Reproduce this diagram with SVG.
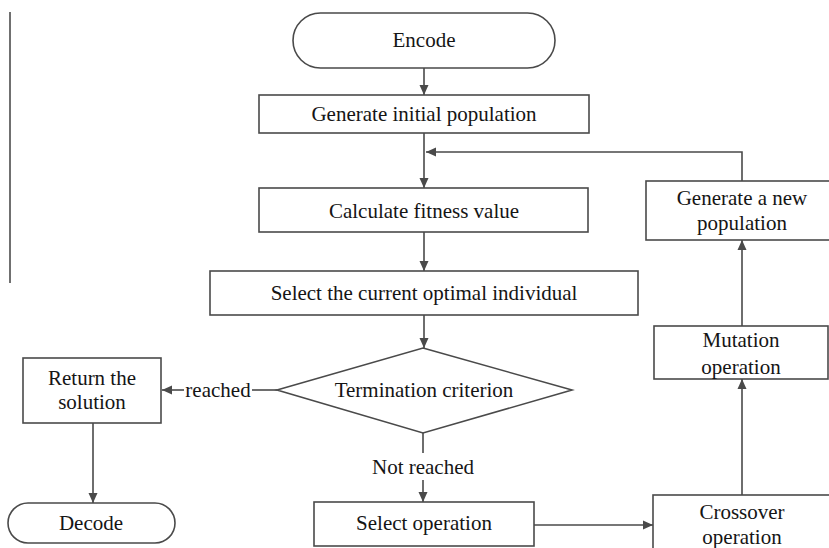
<svg xmlns="http://www.w3.org/2000/svg" width="829" height="548" viewBox="0 0 829 548">
<defs>
<style>
.box{fill:#fff;stroke:#4a4a4a;stroke-width:1.6}
.ln{fill:none;stroke:#4a4a4a;stroke-width:1.6}
.t{font-family:"Liberation Serif","Times New Roman",serif;font-size:21px;fill:#151515;text-anchor:middle}
</style>
<marker id="ah" viewBox="0 0 10 10" refX="10" refY="5" markerWidth="10" markerHeight="10" markerUnits="userSpaceOnUse" orient="auto">
<path d="M0,0.5 L10,5 L0,9.5 Z" fill="#4a4a4a"/>
</marker>
</defs>
<rect width="829" height="548" fill="#fff"/>
<line x1="10" y1="12" x2="10" y2="283" stroke="#707070" stroke-width="2"/>

<g id="connectors">
<line class="ln" x1="424" y1="68" x2="424" y2="95" marker-end="url(#ah)"/>
<line class="ln" x1="424" y1="133" x2="424" y2="188" marker-end="url(#ah)"/>
<polyline class="ln" points="742,181 742,152 426,152" marker-end="url(#ah)"/>
<line class="ln" x1="424" y1="232" x2="424" y2="271" marker-end="url(#ah)"/>
<line class="ln" x1="424" y1="315" x2="424" y2="348" marker-end="url(#ah)"/>
<line class="ln" x1="277" y1="390" x2="252" y2="390"/>
<line class="ln" x1="184" y1="390" x2="162" y2="390" marker-end="url(#ah)"/>
<line class="ln" x1="93" y1="423" x2="93" y2="503" marker-end="url(#ah)"/>
<line class="ln" x1="423" y1="433" x2="423" y2="453"/>
<line class="ln" x1="423" y1="480" x2="423" y2="502" marker-end="url(#ah)"/>
<line class="ln" x1="534" y1="525" x2="653" y2="525" marker-end="url(#ah)"/>
<line class="ln" x1="742" y1="495" x2="742" y2="379" marker-end="url(#ah)"/>
<line class="ln" x1="742" y1="326" x2="742" y2="240" marker-end="url(#ah)"/>
<text class="t" x="218" y="397">reached</text>
<text class="t" x="423" y="474">Not reached</text>
</g>

<g id="encode">
<rect class="box" x="293" y="13" width="262" height="55" rx="27.5"/>
<text class="t" x="424" y="47">Encode</text>
</g>
<g id="generate-initial">
<rect class="box" x="259" y="95" width="330" height="38"/>
<text class="t" x="424" y="121">Generate initial population</text>
</g>
<g id="calculate-fitness">
<rect class="box" x="259" y="188" width="329" height="44"/>
<text class="t" x="424" y="218">Calculate fitness value</text>
</g>
<g id="select-optimal">
<rect class="box" x="210" y="271" width="428" height="44"/>
<text class="t" x="424" y="300">Select the current optimal individual</text>
</g>
<g id="termination">
<polygon class="box" points="423,348 572,390 423,433 277,390"/>
<text class="t" x="424" y="397">Termination criterion</text>
</g>
<g id="return-solution">
<rect class="box" x="23" y="358" width="138" height="65"/>
<text class="t" x="92" y="385">Return the</text>
<text class="t" x="92" y="409">solution</text>
</g>
<g id="decode">
<rect class="box" x="8" y="503" width="167" height="40" rx="20"/>
<text class="t" x="91" y="530">Decode</text>
</g>
<g id="select-operation">
<rect class="box" x="314" y="502" width="220" height="44"/>
<text class="t" x="424" y="530">Select operation</text>
</g>
<g id="crossover">
<rect class="box" x="653" y="495" width="180" height="60"/>
<text class="t" x="742" y="519">Crossover</text>
<text class="t" x="742" y="544">operation</text>
</g>
<g id="mutation">
<rect class="box" x="654" y="326" width="174" height="53"/>
<text class="t" x="741" y="347">Mutation</text>
<text class="t" x="741" y="374">operation</text>
</g>
<g id="generate-new">
<rect class="box" x="646" y="181" width="186" height="59"/>
<text class="t" x="742" y="205">Generate a new</text>
<text class="t" x="742" y="230">population</text>
</g>
</svg>
